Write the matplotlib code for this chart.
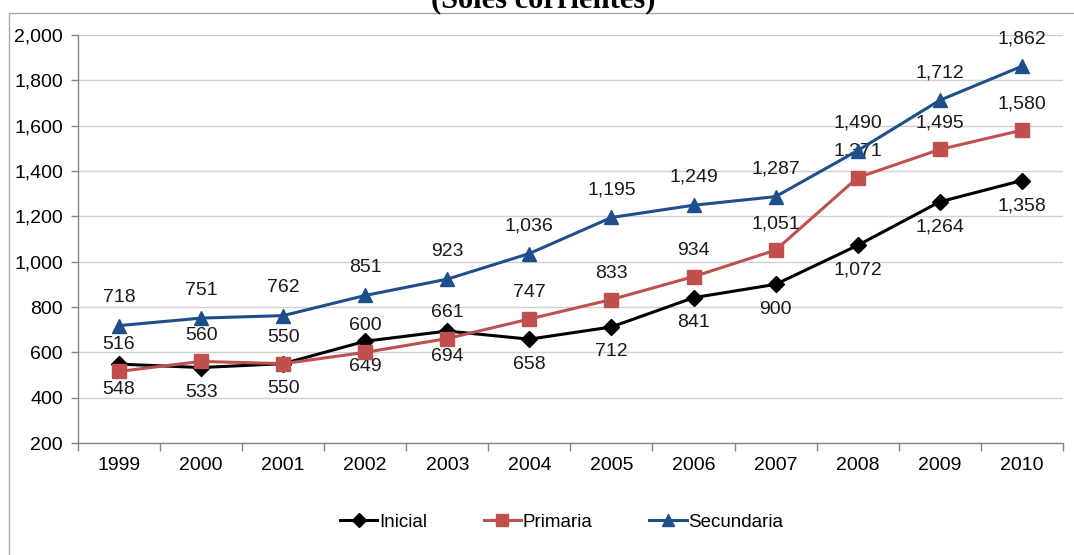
import matplotlib
matplotlib.use("Agg")
import matplotlib.pyplot as plt
from matplotlib.patches import Rectangle
from matplotlib.ticker import FuncFormatter, FixedLocator

plt.rcParams['font.family'] = ['Liberation Sans', 'DejaVu Sans']

years = ['1999', '2000', '2001', '2002', '2003', '2004',
         '2005', '2006', '2007', '2008', '2009', '2010']
inicial = [548, 533, 550, 649, 694, 658, 712, 841, 900, 1072, 1264, 1358]
primaria = [516, 560, 550, 600, 661, 747, 833, 934, 1051, 1371, 1495, 1580]
secundaria = [718, 751, 762, 851, 923, 1036, 1195, 1249, 1287, 1490, 1712, 1862]

fig = plt.figure(figsize=(10.74, 5.55), dpi=100)
ax = fig.add_axes([0.0726, 0.2018, 0.917, 0.7351])

# light frame of the chart area (runs off the right / bottom of the crop)
fig.patches.append(Rectangle((9 / 1074, -0.2), 1.2, 1.2 - 13 / 555,
                             transform=fig.transFigure, fill=False,
                             edgecolor='#a6a6a6', linewidth=1.0))

# title sits above the frame and is cut by the top edge, as in the source image
fig.text(0.5055, 1 - 7 / 555, '(Soles corrientes)', ha='center', va='baseline',
         fontsize=22, fontweight='bold', family='Liberation Serif')

x = list(range(len(years)))
series = [
    (inicial, 'Inicial', 'black', 'D', 8, -18),
    (primaria, 'Primaria', '#c0504d', 's', 10, 19),
    (secundaria, 'Secundaria', '#1f4e8c', '^', 10, 20),
]
for vals, name, col, mk, ms, dy in series:
    ax.plot(x, vals, color=col, marker=mk, markersize=ms, linewidth=2.2,
            label=name, zorder=3)
    for xi, v in zip(x, vals):
        ax.annotate(f'{v:,}', (xi, v), xytext=(0, dy), textcoords='offset points',
                    ha='center', va='center', fontsize=14, color='#1a1a1a')

ax.set_xlim(-0.5, len(years) - 0.5)
ax.set_ylim(200, 2000)
ax.set_yticks(range(200, 2001, 200))
ax.yaxis.set_major_formatter(FuncFormatter(lambda v, p: f'{int(v):,}'))
ax.grid(axis='y', color='#d0d0d0', linewidth=1.0)
ax.set_axisbelow(True)

ax.xaxis.set_major_locator(FixedLocator([i - 0.5 for i in range(len(years) + 1)]))
ax.xaxis.set_minor_locator(FixedLocator(x))
ax.set_xticklabels([], minor=False)
ax.set_xticklabels(years, minor=True)
ax.tick_params(axis='x', which='major', length=6, color='#868686', width=1)
ax.tick_params(axis='x', which='minor', length=0, pad=10, labelsize=14)
ax.tick_params(axis='y', length=5.3, pad=5.5, color='#868686', width=1, labelsize=14)

for s in ['top', 'right']:
    ax.spines[s].set_visible(False)
for s in ['left', 'bottom']:
    ax.spines[s].set_color('#868686')
    ax.spines[s].set_linewidth(1.0)

ax.legend(loc='center', bbox_to_anchor=(0.523, 0.0595), bbox_transform=fig.transFigure,
          ncol=3, frameon=False, fontsize=13.5, handlelength=2.0, handletextpad=0.1,
          columnspacing=3.0, markerscale=0.9)

fig.savefig('out.png', dpi=100)
